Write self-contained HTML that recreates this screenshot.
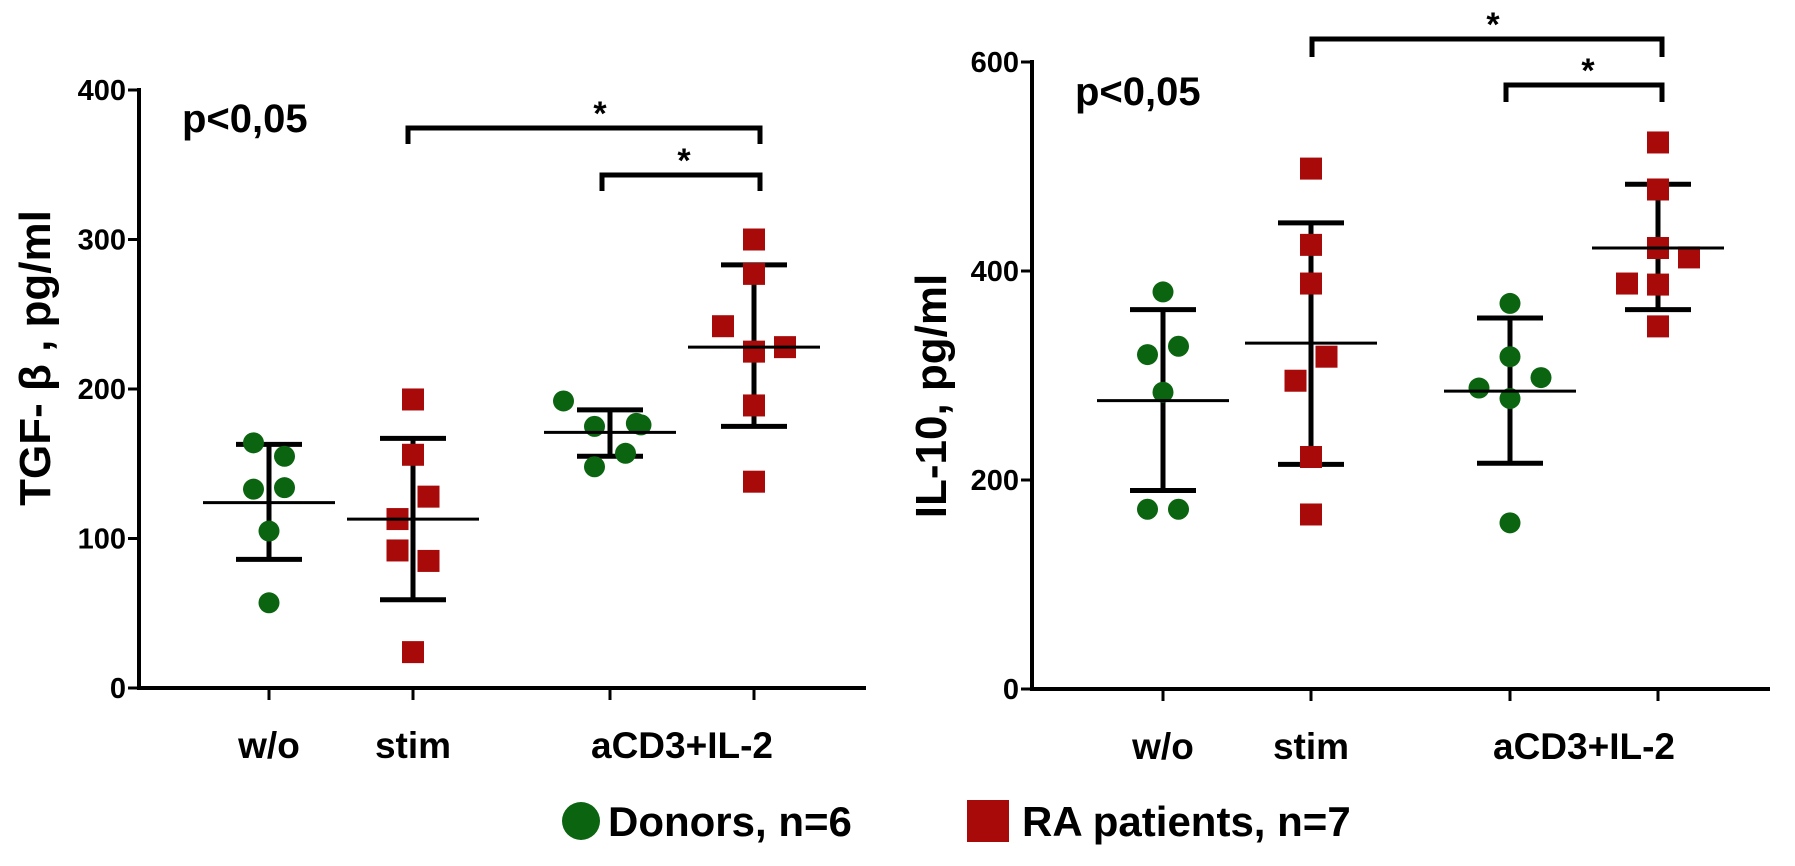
<!DOCTYPE html>
<html><head><meta charset="utf-8">
<style>
html,body{margin:0;padding:0;background:#fff;}
svg{display:block;font-family:"Liberation Sans",Arial,sans-serif;font-weight:bold;}
</style></head>
<body>
<svg id="fig" width="1795" height="866" viewBox="0 0 1795 866" xmlns="http://www.w3.org/2000/svg">
  <g id="left"></g>
  <g id="right"></g>
  <g>
    <circle cx="581" cy="821" r="19" fill="#0b6410"/>
    <text x="608" y="836" font-size="42">Donors, n=6</text>
    <rect x="967" y="800" width="42" height="42" fill="#a80a0a"/>
    <text x="1022" y="836" font-size="42">RA patients, n=7</text>
  </g>
</svg>
<script>
// ---- Left panel data (TGF-beta) ----
const leftTicks = [0, 100, 200, 300, 400];
const leftWoDonors = [164, 155, 133, 134, 105, 57];
const leftWoDonorsOff = [-1, 1, -1, 1, 0, 0];
const leftStimRA = [193, 156, 128, 113, 92, 85, 24];
const leftStimRAOff = [0, 0, 1, -1, -1, 1, 0];
const leftCD3Donors = [192, 175, 176, 177, 157, 148];
const leftCD3DonorsOff = [-3, -1, 2, 1.7, 1, -1];
const leftCD3RA = [300, 277, 242, 228, 225, 189, 138];
const leftCD3RAOff = [0, 0, -2, 2, 0, 0, 0];
const leftMeans = [124, 113, 171, 228];
const leftUpper = [163, 167, 186, 283];
const leftLower = [86, 59, 155, 175];

// ---- Right panel data (IL-10) ----
const rightTicks = [0, 200, 400, 600];
const rightWoDonors = [380, 328, 320, 284, 172, 172];
const rightWoDonorsOff = [0, 1, -1, 0, -1, 1];
const rightStimRA = [498, 425, 388, 318, 295, 222, 167];
const rightStimRAOff = [0, 0, 0, 1, -1, 0, 0];
const rightCD3Donors = [369, 318, 298, 288, 278, 159];
const rightCD3DonorsOff = [0, 0, 2, -2, 0, 0];
const rightCD3RA = [523, 478, 422, 413, 388, 387, 347];
const rightCD3RAOff = [0, 0, 0, 2, -2, 0, 0];
const rightMeans = [276, 331, 285, 422];
const rightUpper = [363, 446, 355, 483];
const rightLower = [190, 215, 216, 363];

const categories = ["w/o", "stim", "aCD3+IL-2"];
const GREEN = "#0b6410", RED = "#a80a0a";
const NS = "http://www.w3.org/2000/svg";

function mk(parent, tag, attrs) {
  const e = document.createElementNS(NS, tag);
  for (const k in attrs) e.setAttribute(k, attrs[k]);
  parent.appendChild(e);
  return e;
}

function drawPanel(g, cfg) {
  const y = v => cfg.y0 - (v - 0) * cfg.k;
  let ax = mk(g, "line", {x1: cfg.ax, y1: y(cfg.ticks[cfg.ticks.length-1]) - 2, x2: cfg.ax, y2: cfg.y0 + 2, stroke: "#000", "stroke-width": 4});
  
  
  let xa = mk(g, "line", {x1: cfg.ax - 2, y1: cfg.y0, x2: cfg.xEnd, y2: cfg.y0, stroke: "#000", "stroke-width": 4});
  
  
  cfg.ticks.forEach(t => {
    const tl = mk(g, "line", {x1: cfg.ax - 11, y1: y(t), x2: cfg.ax, y2: y(t), stroke: "#000", "stroke-width": 3});
    
    
    const tx = mk(g, "text", {x: cfg.ax - 13, y: y(t) + 10, "text-anchor": "end", "font-size": 29});
    tx.textContent = t;
    
    
  });
  cfg.cx.forEach(c => {
    const tk = mk(g, "line", {x1: c, y1: cfg.y0, x2: c, y2: cfg.y0 + 12, stroke: "#000", "stroke-width": 3});
    
    
  });
  const labX = [cfg.cx[0], cfg.cx[1], (cfg.cx[2] + cfg.cx[3]) / 2];
  categories.forEach((c, i) => {
    const t = mk(g, "text", {x: labX[i], y: cfg.y0 + 70, "text-anchor": "middle", "font-size": 37});
    t.textContent = c;
    
    
  });
  const yt = mk(g, "text", {x: 0, y: 0, "text-anchor": "middle", "font-size": cfg.titleSize, transform: `translate(${cfg.titleX},${cfg.titleY}) rotate(-90)`});
  yt.textContent = cfg.title;
  
  
  const pv = mk(g, "text", {x: cfg.ax + 43, y: cfg.pY, "font-size": 40});
  pv.textContent = "p<0,05";
  
  

  cfg.means.forEach((m, i) => {
    const c = cfg.cx[i];
    const v = mk(g, "line", {x1: c, y1: y(cfg.upper[i]), x2: c, y2: y(cfg.lower[i]), stroke: "#000", "stroke-width": 5});
    
    
    [cfg.upper[i], cfg.lower[i]].forEach(b => {
      const cap = mk(g, "line", {x1: c - 33, y1: y(b), x2: c + 33, y2: y(b), stroke: "#000", "stroke-width": 5});
      
      
    });
  });
  cfg.series.forEach((s, i) => {
    const c = cfg.cx[i];
    s.vals.forEach((v, j) => {
      const px = c + s.off[j] * 15.5;
      let e;
      if (s.red) {
        e = mk(g, "rect", {x: px - 11, y: y(v) - 11, width: 22, height: 22, fill: RED});
        
      } else {
        e = mk(g, "circle", {cx: px, cy: y(v), r: 10.5, fill: GREEN});
        
      }
      
    });
  });
  cfg.means.forEach((m, i) => {
    const c = cfg.cx[i];
    const ml = mk(g, "line", {x1: c - 66, y1: y(m), x2: c + 66, y2: y(m), stroke: "#000", "stroke-width": 3});
    
    
  });
  cfg.brackets.forEach(b => {
    const p = mk(g, "path", {d: `M${b.x1},${b.yl} V${b.y} H${b.x2} V${b.yl}`, fill: "none", stroke: "#000", "stroke-width": 5});
    
    
    const s = mk(g, "text", {x: b.sx, y: b.y - 3, "text-anchor": "middle", "font-size": 34});
    s.textContent = "*";
    
    
  });
}

drawPanel(document.getElementById("left"), {
  ax: 139, y0: 688, k: 1.495, xEnd: 866, cx: [269, 413, 610, 754],
  ticks: leftTicks, means: leftMeans, upper: leftUpper, lower: leftLower,
  title: 'TGF- β , pg/ml', titleSize: 44, titleX: 50, titleY: 358, pY: 132,
  series: [
    {vals: leftWoDonors, off: leftWoDonorsOff, red: false},
    {vals: leftStimRA, off: leftStimRAOff, red: true},
    {vals: leftCD3Donors, off: leftCD3DonorsOff, red: false},
    {vals: leftCD3RA, off: leftCD3RAOff, red: true}
  ],
  brackets: [
    {x1: 408, x2: 760, y: 128, yl: 144, sx: 600},
    {x1: 602, x2: 760, y: 175, yl: 191, sx: 684}
  ]
});
drawPanel(document.getElementById("right"), {
  ax: 1032, y0: 689, k: 1.045, xEnd: 1770, cx: [1163, 1311, 1510, 1658],
  ticks: rightTicks, means: rightMeans, upper: rightUpper, lower: rightLower,
  title: 'IL-10, pg/ml', titleSize: 44, titleX: 946, titleY: 396, pY: 105,
  series: [
    {vals: rightWoDonors, off: rightWoDonorsOff, red: false},
    {vals: rightStimRA, off: rightStimRAOff, red: true},
    {vals: rightCD3Donors, off: rightCD3DonorsOff, red: false},
    {vals: rightCD3RA, off: rightCD3RAOff, red: true}
  ],
  brackets: [
    {x1: 1312, x2: 1662, y: 39, yl: 57, sx: 1493},
    {x1: 1506, x2: 1662, y: 85, yl: 102, sx: 1588}
  ]
});
</script>
</body></html>
